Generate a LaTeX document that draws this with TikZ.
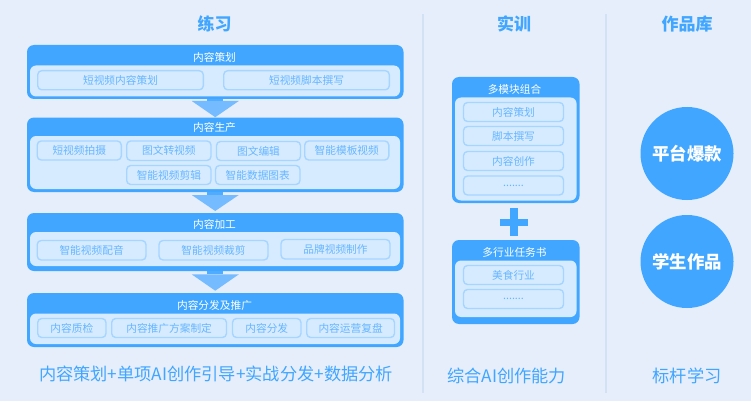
\documentclass[tikz,border=0pt]{standalone}
\usepackage{fontspec}
\setmainfont{Noto Sans CJK SC}
\usetikzlibrary{calc}
\definecolor{bg}{HTML}{E6EEFB}
\definecolor{mainblue}{HTML}{40A6FF}
\definecolor{innerblue}{HTML}{D6EBFF}
\definecolor{chipline}{HTML}{A6D5FF}
\definecolor{chiptext}{HTML}{66B6FF}
\definecolor{arrowblue}{HTML}{75BBFF}
\definecolor{stemblue}{HTML}{4FACFF}
\definecolor{divider}{HTML}{D3E1F5}
\newcommand{\bx}[7]{\node[#6,minimum width={(#4-#2)*1pt},minimum height={(#5-#3)*1pt}] (#1) at ({(#2+#4)/2},{(#3+#5)/2}) {#7};}
% #1 upper box, #2 lower box, #3 gap between the tip and the lower box, #4 stem length
\newcommand{\blockarrow}[4]{\fill[stemblue] ($(#1.south)+(-8,0)$) rectangle ($(#1.south)+(8,#4)$);
  \fill[arrowblue] ($(#1.south)+(-23.5,#4)$) -- ($(#1.south)+(23.5,#4)$) -- ($(#2.north)+(0,-#3)$) -- cycle;}
\tikzset{
  x=1pt,y=-1pt,
  base/.style={inner sep=0pt,outer sep=0pt,align=center},
  outerbox/.style={base,fill=mainblue,rounded corners=7pt},
  innerbox/.style={base,fill=innerblue,rounded corners=6pt},
  chip/.style={base,draw=chipline,line width=1.4pt,fill=innerblue,rounded corners=4pt,text=chiptext,font=\fontsize{10.7}{12}\selectfont},
  boxtitle/.style={base,text=white,font=\fontsize{10.7}{12}\selectfont},
  heading/.style={base,text=mainblue,font=\fontsize{17}{18}\selectfont\bfseries},
  summary/.style={base,text=mainblue,font=\fontsize{17.2}{20}\selectfont},
  badge/.style={base,circle,fill=mainblue,minimum size=93pt,text=white,font=\fontsize{17.4}{20}\selectfont\bfseries},
}
\begin{document}
\begin{tikzpicture}
\useasboundingbox (0,0) rectangle (751,401);
\fill[bg] (0,0) rectangle (751,401);
% dividers
\draw[divider,line width=2pt] (423,14) -- (423,393);
\draw[divider,line width=2pt] (605.5,14) -- (605.5,393);
% headings
\node[heading] (h1) at (214.5,24) {练习};
\node[heading] (h2) at (514,24) {实训};
\node[heading] (h3) at (687,24) {作品库};
% box 1
\bx{b1}{27}{45}{403.5}{99}{outerbox}{}
\bx{i1}{30}{65.5}{400}{96.5}{innerbox}{}
\node[boxtitle] (t1) at (214.5,57.5) {内容策划};
\bx{c11}{37.7}{70.7}{203.3}{89.8}{chip}{短视频内容策划}
\bx{c12}{223.7}{70.7}{389.3}{89.8}{chip}{短视频脚本撰写}
% box 2
\bx{b2}{27}{117.5}{403.5}{192}{outerbox}{}
\bx{i2}{30}{136}{400}{189}{innerbox}{}
\node[boxtitle] (t2) at (214.5,127.5) {内容生产};
\bx{c21}{37.2}{141}{121.3}{160}{chip}{短视频拍摄}
\bx{c22}{126.7}{141}{211}{160.5}{chip}{图文转视频}
\bx{c23}{216.5}{141.5}{300.5}{160.5}{chip}{图文编辑}
\bx{c24}{304.7}{141}{388.8}{160}{chip}{智能模板视频}
\bx{c25}{126.7}{165.5}{211}{184.5}{chip}{智能视频剪辑}
\bx{c26}{215.5}{165.5}{300}{184.5}{chip}{智能数据图表}
% box 3
\bx{b3}{27}{213}{403.5}{271}{outerbox}{}
\bx{i3}{30}{232}{400}{266}{innerbox}{}
\node[boxtitle] (t3) at (214.5,224) {内容加工};
\bx{c31}{37.2}{240.5}{146}{260}{chip}{智能视频配音}
\bx{c32}{159}{240.5}{268}{260}{chip}{智能视频裁剪}
\bx{c33}{281}{239.5}{390}{259}{chip}{品牌视频制作}
% box 4
\bx{b4}{27}{293}{403.5}{347}{outerbox}{}
\bx{i4}{30}{313.5}{400}{344}{innerbox}{}
\node[boxtitle] (t4) at (214.5,305) {内容分发及推广};
\bx{c41}{37.7}{318.5}{106}{337.5}{chip}{内容质检}
\bx{c42}{111.7}{318.5}{226.5}{337.5}{chip}{内容推广方案制定}
\bx{c43}{232.5}{318.5}{301}{337.5}{chip}{内容分发}
\bx{c44}{306.7}{318.5}{394.5}{337.5}{chip}{内容运营复盘}
% block arrows
\blockarrow{b1}{b2}{0.3}{2}
\blockarrow{b2}{b3}{2}{3}
\blockarrow{b3}{b4}{2.3}{3.4}
% bottom texts
\node[summary] (s1) at (216,374) {内容策划+单项AI创作引导+实战分发+数据分析};
\node[summary] (s2) at (506.5,376) {综合AI创作能力};
\node[summary] (s3) at (687,376) {标杆学习};
% practice column
\bx{m1}{452}{77}{579.5}{203}{outerbox}{}
\bx{j1}{455}{97.5}{576.5}{200.5}{innerbox}{}
\node[boxtitle] (mt1) at (514.5,89) {多模块组合};
\bx{d11}{463.5}{102.5}{563.5}{121.5}{chip}{内容策划}
\bx{d12}{463.5}{126.5}{563.5}{145.5}{chip}{脚本撰写}
\bx{d13}{463.5}{151.5}{563.5}{170.5}{chip}{内容创作}
\bx{d14}{463.5}{176}{563.5}{195}{chip}{.......}
% plus
\fill[mainblue] (510,208) rectangle (518,236);
\fill[mainblue] (500,219) rectangle (528,225.5);
\bx{m2}{452}{240}{579.5}{324}{outerbox}{}
\bx{j2}{455}{260.5}{576.5}{317}{innerbox}{}
\node[boxtitle] (mt2) at (514.5,252) {多行业任务书};
\bx{d21}{463.5}{265.5}{563.5}{284.5}{chip}{美食行业}
\bx{d22}{463.5}{289.5}{563.5}{308.5}{chip}{.......}
% circles
\node[badge] (p1) at (687,153.5) {平台爆款};
\node[badge] (p2) at (687,261.5) {学生作品};
\end{tikzpicture}
\end{document}
